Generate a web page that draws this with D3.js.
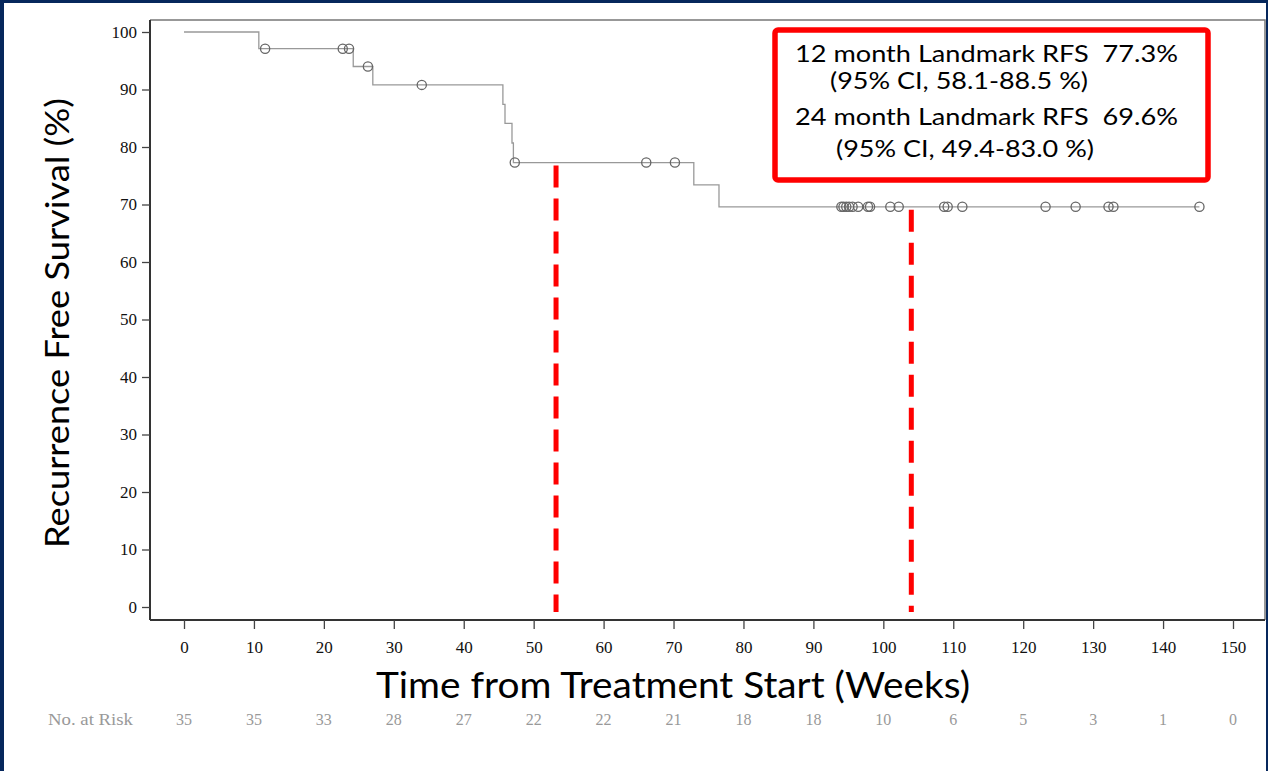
<!DOCTYPE html>
<html><head><meta charset="utf-8">
<script src="https://cdn.jsdelivr.net/npm/d3@7"></script>
<style>body{margin:0;background:#fff;}svg{display:block;}</style>
</head><body>
<svg id="c" width="1268" height="771"></svg>
<script>
// KM step curve: time (weeks) and survival (%) after each step
const stepTimes = [0, 10.7, 24.2, 27.0, 45.6, 45.9, 46.9, 47.1, 72.9, 76.5, 145.2];
const stepSurv  = [100, 97.1, 94.0, 90.8, 87.4, 84.1, 80.7, 77.3, 73.4, 69.6, 69.6];
// censored observations (weeks)
const censorTimes = [11.6, 22.7, 23.6, 26.3, 34.0, 47.3, 66.1, 70.2,
  94.0, 94.3, 94.7, 95.1, 95.6, 96.4, 97.8, 98.1,
  101.0, 102.2, 108.7, 109.2, 111.3, 123.2, 127.5, 132.2, 132.9, 145.2];
const landmarkTimes = [53.2, 104.0];
const landmarkSurv = [77.3, 69.6];
const xTicks = [0,10,20,30,40,50,60,70,80,90,100,110,120,130,140,150];
const yTicks = [0,10,20,30,40,50,60,70,80,90,100];
const atRisk = [35,35,33,28,27,22,22,21,18,18,10,6,5,3,1,0];
const boxLines = ["12 month Landmark RFS  77.3%", "(95% CI, 58.1-88.5 %)",
                  "24 month Landmark RFS  69.6%", "(95% CI, 49.4-83.0 %)"];

const svg = d3.select("#c");
const x = d3.scaleLinear().domain([0,150]).range([184,1233]);
const y = d3.scaleLinear().domain([0,100]).range([607,32]);

// frame
svg.append("rect").attr("x",0).attr("y",0).attr("width",1268).attr("height",771).attr("fill","#fff");
svg.append("rect").attr("x",0).attr("y",0).attr("width",4).attr("height",771).attr("fill","#06275c");
svg.append("rect").attr("x",0).attr("y",0).attr("width",1268).attr("height",3).attr("fill","#06275c");
svg.append("rect").attr("x",1266).attr("y",0).attr("width",2).attr("height",771).attr("fill","#06275c");

const L=150, R=1265, T=20, B=620;
// top & right borders
svg.append("path").attr("d",`M${L},${T}H${R}V${B}`).attr("fill","none").attr("stroke","#777").attr("stroke-width",1.5);

// y axis
const ya = svg.append("g").attr("transform",`translate(${L},0)`)
  .call(d3.axisLeft(y).tickValues(yTicks).tickSize(8).tickPadding(5).tickSizeOuter(0));
ya.select(".domain").attr("d",`M0,${T}V${B}`).attr("stroke","#333").attr("stroke-width",2);
ya.selectAll(".tick line").attr("stroke","#444").attr("stroke-width",1.3);
ya.selectAll(".tick text").attr("x",-13).attr("font-family","Liberation Serif").attr("font-size",17).attr("fill","#111");

// x axis
const xa = svg.append("g").attr("transform",`translate(0,${B})`)
  .call(d3.axisBottom(x).tickValues(xTicks).tickSize(9).tickPadding(12).tickSizeOuter(0));
xa.select(".domain").attr("d",`M${L},0H${R}`).attr("stroke","#333").attr("stroke-width",2);
xa.selectAll(".tick line").attr("stroke","#444").attr("stroke-width",1.3);
xa.selectAll("text").attr("font-family","Liberation Serif").attr("font-size",17).attr("fill","#111");

// axis titles
svg.append("text").attr("x",673).attr("y",698).attr("text-anchor","middle")
  .attr("font-family","Lato").attr("font-size",36).attr("fill","#000")
  .attr("textLength",594).attr("lengthAdjust","spacingAndGlyphs")
  .text("Time from Treatment Start (Weeks)");
svg.append("text").attr("transform","translate(69,323) rotate(-90)").attr("text-anchor","middle")
  .attr("font-family","Lato").attr("font-size",33).attr("fill","#000")
  .attr("textLength",450).attr("lengthAdjust","spacingAndGlyphs")
  .text("Recurrence Free Survival (%)");

// KM curve
const line = d3.line().x(d=>x(d[0])).y(d=>y(d[1])).curve(d3.curveStepAfter);
svg.append("path").datum(stepTimes.map((t,i)=>[t,stepSurv[i]]))
  .attr("d",line).attr("fill","none").attr("stroke","#999").attr("stroke-width",1.3);

function survAt(t){ let s=stepSurv[0]; stepTimes.forEach((st,i)=>{ if(st<=t) s=stepSurv[i]; }); return s; }
svg.append("g").selectAll("circle").data(censorTimes).join("circle")
  .attr("cx",d=>x(d)).attr("cy",d=>y(survAt(d))).attr("r",4.6)
  .attr("fill","none").attr("stroke","#666").attr("stroke-width",1.3);

// landmark dashed lines
svg.append("g").selectAll("line").data(landmarkTimes).join("line")
  .attr("x1",d=>x(d)).attr("x2",d=>x(d))
  .attr("y1",(d,i)=>y(landmarkSurv[i])+3).attr("y2",y(0)+5)
  .attr("stroke","#ff0000").attr("stroke-width",5).attr("stroke-dasharray","22,11");

// annotation box
svg.append("rect").attr("x",775).attr("y",30).attr("width",433).attr("height",150).attr("rx",3)
  .attr("fill","#fff").attr("stroke","#ff0000").attr("stroke-width",5.5);
const bx=[795,830,795,836], by=[62,89,125,157], bw=[383,258,383,258];
svg.append("g").selectAll("text").data(boxLines).join("text")
  .attr("x",(d,i)=>bx[i]).attr("y",(d,i)=>by[i])
  .attr("font-family","Lato").attr("font-size",23).attr("fill","#000")
  .attr("textLength",(d,i)=>bw[i]).attr("lengthAdjust","spacingAndGlyphs")
  .style("white-space","pre").text(d=>d);

// number at risk
svg.append("text").attr("x",48).attr("y",725).attr("font-family","Liberation Serif")
  .attr("font-size",17).attr("fill","#999").attr("textLength",85).attr("lengthAdjust","spacingAndGlyphs")
  .text("No. at Risk");
svg.append("g").selectAll("text").data(atRisk).join("text")
  .attr("x",(d,i)=>x(xTicks[i])).attr("y",725).attr("text-anchor","middle")
  .attr("font-family","Liberation Serif").attr("font-size",16).attr("fill","#999").text(d=>d);
</script>
</body></html>
